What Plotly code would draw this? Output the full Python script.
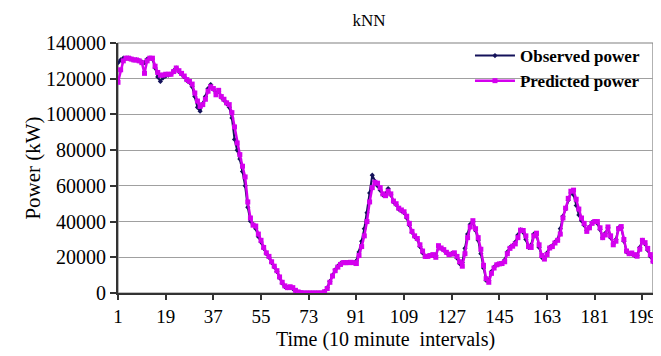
import plotly.graph_objects as go

time_idx = list(range(1, 204))

predicted_power = [
    118000, 125000, 130000, 131500, 131500, 131000, 130500, 130500, 130000, 129000,
    123000, 130000, 131500, 131500, 127000, 123500, 122000, 122000, 122500, 122500,
    122500, 124000, 126000, 124500, 123000, 121500, 119500, 118500, 117000, 112000,
    107500, 104500, 105500, 108500, 113000, 115500, 114500, 111000, 113500, 110000,
    108500, 106500, 105500, 101000, 93000, 84000, 77500, 71000, 65000, 51000,
    42000, 38000, 37500, 33000, 29500, 25500, 22500, 20500, 17500, 15000,
    12500, 9000, 6000, 4000, 3000, 3500, 3000, 1500, 600, 200,
    0, 0, 0, 0, 0, 0, 0, 0, 700, 2500,
    6000, 9500, 12500, 14500, 16000, 17000, 17000, 17000, 17200, 17000,
    16500, 21000, 26000, 32000, 40000, 51000, 59000, 62000, 61500, 59000,
    55500, 54500, 57000, 55500, 51500, 50000, 47500, 46500, 45500, 43000,
    39000, 34500, 32000, 30500, 27000, 23500, 20500, 20500, 21000, 21500,
    20000, 26500, 25200, 24300, 22800, 21500, 21800, 22500, 20500, 17500,
    15000, 22000, 31000, 37000, 40500, 36000, 31000, 24500, 15500, 8000,
    6000, 11000, 14000, 15800, 16300, 16500, 17500, 22000, 25000, 26200,
    27500, 31000, 35200, 35000, 32000, 26000, 25500, 32000, 33500, 27000,
    21000, 19000, 21500, 25200, 26000, 28000, 29500, 33000, 42000, 47500,
    53000, 57000, 57600, 52500, 47000, 42000, 39000, 34500, 36500, 39000,
    40000, 40000, 36500, 31000, 32500, 37000, 32000, 27000, 29000, 36000,
    37200, 30000, 23500, 22000, 22400, 21500, 20600, 24500, 29500, 28200,
    25000, 21500, 17800,
]

observed_power = [
    129000, 130500, 131500, 131500, 131500, 131000, 130500, 130500, 130000, 129500,
    129000, 131000, 131500, 131000, 126000, 121000, 118500, 120500, 121500, 122000,
    122500, 124500, 126000, 124000, 122500, 121000, 119000, 118000, 115500, 110000,
    104000, 101800, 106000, 110000, 114500, 116700, 114000, 112000, 113000, 109500,
    108000, 106000, 104000, 98000, 86000, 80000, 75000, 68000, 60000, 48000,
    40200, 38500, 36000, 31500, 28500, 25000, 22000, 20000, 17000, 14500,
    12000, 8500, 5500, 3500, 3000, 3200, 2500, 1200, 400, 100,
    0, 0, 0, 0, 0, 0, 0, 0, 900, 3000,
    6500, 10000, 13000, 15000, 16500, 17000, 17000, 17200, 17000, 16800,
    18000, 23000, 29000, 36000, 45000, 56000, 66000, 62500, 60000, 57500,
    55000, 55500, 58500, 55000, 51000, 49500, 47000, 46000, 45000, 42000,
    38000, 34000, 31500, 30000, 26000, 22500, 20500, 20800, 21200, 21000,
    21000, 26000, 25000, 24000, 22500, 21500, 22000, 22000, 19500, 16500,
    17000, 25000, 33000, 38500, 40000, 35000, 29500, 22000, 14000, 7000,
    7000, 12000, 14500, 15800, 16300, 16800, 18500, 23000, 25500, 26500,
    28500, 32500, 35300, 34000, 30000, 25500, 27000, 33000, 32500, 25500,
    20000, 19500, 22500, 25500, 26500, 28500, 30000, 36000, 43000, 47000,
    52000, 56000, 55000, 49000, 43700, 40500, 38000, 35000, 37000, 39500,
    40000, 39000, 35500, 31000, 33500, 36500, 31000, 27500, 30000, 36500,
    36500, 29000, 23000, 22000, 22000, 21000, 21000, 25500, 29500, 27500,
    24000, 20500, 17500,
]

x_tickvals = [1, 19, 37, 55, 73, 91, 109, 127, 145, 163, 181, 199]
y_tickvals = [0, 20000, 40000, 60000, 80000, 100000, 120000, 140000]

serif = "Liberation Serif, Times New Roman, serif"

fig = go.Figure()
fig.add_trace(go.Scatter(
    x=time_idx, y=observed_power, name="Observed power",
    mode="lines+markers",
    line=dict(color="#14125a", width=2),
    marker=dict(symbol="diamond", size=4, color="#14125a"),
))
fig.add_trace(go.Scatter(
    x=time_idx, y=predicted_power, name="Predicted power",
    mode="lines+markers",
    line=dict(color="#d400ee", width=2.5),
    marker=dict(symbol="square", size=5, color="#d400ee"),
))

fig.update_layout(
    width=653, height=348,
    margin=dict(l=110, r=4, t=35, b=63),
    paper_bgcolor="white", plot_bgcolor="white",
    font=dict(family=serif, color="black", size=14),
    title=dict(text="kNN", x=0.553, xanchor="center", y=0.965, yanchor="middle",
               font=dict(family=serif, size=17, color="black")),
    showlegend=True,
    legend=dict(x=0.985, xanchor="right", y=1.02, yanchor="top",
                bgcolor="rgba(0,0,0,0)", borderwidth=0,
                font=dict(family=serif, size=17, color="black", weight="bold"),
                itemwidth=40, tracegroupgap=0),
    xaxis=dict(
        range=[1, 203], tickmode="array", tickvals=x_tickvals,
        ticktext=[str(v) for v in x_tickvals],
        ticks="outside", ticklen=5, tickcolor="#333333", tickwidth=1.5,
        showline=True, linecolor="#333333", linewidth=2,
        showgrid=False, zeroline=False,
        tickfont=dict(family=serif, size=19, color="black"),
        title=dict(text="Time (10 minute  intervals)", standoff=6,
                   font=dict(family=serif, size=20, color="black")),
    ),
    yaxis=dict(
        range=[0, 140000], tickmode="array", tickvals=y_tickvals,
        ticktext=[str(v) for v in y_tickvals],
        ticks="outside", ticklen=6, tickcolor="#333333", tickwidth=1.5,
        showline=True, linecolor="#333333", linewidth=2,
        showgrid=True, gridcolor="#a0a0a0", gridwidth=1.2,
        zeroline=False,
        tickfont=dict(family=serif, size=20, color="black"),
        title=dict(text="Power (kW)", standoff=0,
                   font=dict(family=serif, size=21, color="black")),
    ),
    shapes=[
        dict(type="rect", xref="paper", yref="paper", x0=0, y0=0, x1=1, y1=1,
             line=dict(color="#808080", width=1.2), layer="below"),
        dict(type="rect", xref="paper", yref="paper", x0=0.649, y0=0.80, x1=0.983, y1=0.90,
             line=dict(width=0), fillcolor="white", layer="between"),
    ],
)

fig.write_html("out.html")
